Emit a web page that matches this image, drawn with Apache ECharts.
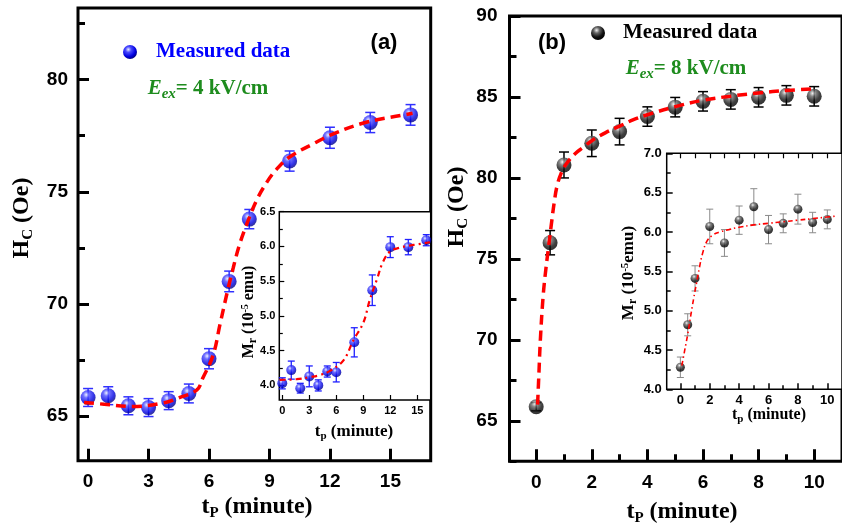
<!DOCTYPE html>
<html><head><meta charset="utf-8">
<script src="https://cdn.jsdelivr.net/npm/echarts@6/dist/echarts.min.js"></script>
<style>html,body{margin:0;padding:0;background:#fff}#c{width:842px;height:528px}</style>
</head><body><div id="c"></div>
<script>
// ---------- Panel (a): main ----------
const tA      = [0, 1, 2, 3, 4, 5, 6, 7, 8, 10, 12, 14, 16];
const hcA     = [65.82, 65.9, 65.45, 65.37, 65.68, 66.0, 67.55, 71.0, 73.78, 76.37, 77.41, 78.09, 78.43];
const hcAErr  = [0.4, 0.4, 0.4, 0.4, 0.4, 0.42, 0.45, 0.46, 0.43, 0.45, 0.47, 0.45, 0.46];
const fitTA   = [-0.2, 0.8, 2.2, 3.7, 4.5, 5.4, 5.7, 6.2, 6.55, 6.9, 7.2, 7.5, 7.85, 8.35, 8.85, 9.35, 10, 11.3, 12.2, 13.8, 15.5, 16.1];
const fitHcA  = [65.6, 65.52, 65.42, 65.57, 65.8, 66.16, 66.7, 67.7, 69.1, 70.5, 71.6, 72.6, 73.5, 74.6, 75.4, 76.0, 76.55, 77.2, 77.6, 78.1, 78.4, 78.5];
// ---------- Panel (a): inset ----------
const tInA    = [0, 1, 2, 3, 4, 5, 6, 8, 10, 12, 14, 16];
const mrA     = [4.03, 4.22, 3.96, 4.13, 4.0, 4.2, 4.19, 4.62, 5.37, 5.99, 5.99, 6.09];
const mrAErr  = [0.08, 0.13, 0.07, 0.15, 0.08, 0.08, 0.14, 0.21, 0.22, 0.15, 0.11, 0.08];
const fitTInA = [-0.3, 1.6, 3.1, 4.2, 5.3, 6.8, 7.9, 9.0, 9.7, 10.5, 11.2, 12, 13, 14, 15, 16.4];
const fitMrA  = [4.08, 4.09, 4.12, 4.15, 4.21, 4.36, 4.65, 4.9, 5.22, 5.52, 5.78, 5.93, 5.98, 6.01, 6.03, 6.06];
// ---------- Panel (b): main ----------
const tB      = [0, 0.5, 1, 2, 3, 4, 5, 6, 7, 8, 9, 10];
const hcB     = [65.87, 76.0, 80.8, 82.14, 82.86, 83.79, 84.37, 84.73, 84.85, 84.98, 85.1, 85.04];
const hcBErr  = [0.25, 0.75, 0.8, 0.82, 0.82, 0.6, 0.6, 0.6, 0.6, 0.6, 0.6, 0.6];
const fitTB   = [0.05, 0.1, 0.15, 0.25, 0.35, 0.45, 0.55, 0.65, 0.75, 0.9, 1.1, 1.4, 1.7, 2, 2.5, 3, 3.5, 4, 5, 6, 7, 8, 9, 10];
const fitHcB  = [66.0, 68.0, 70.0, 72.7, 74.4, 75.8, 77.2, 78.5, 79.5, 80.3, 80.9, 81.5, 81.9, 82.3, 82.8, 83.2, 83.6, 83.9, 84.4, 84.8, 85.05, 85.25, 85.4, 85.5];
// ---------- Panel (b): inset ----------
const tInB    = [0, 0.5, 1, 2, 3, 4, 5, 6, 7, 8, 9, 10];
const mrB     = [4.28, 4.82, 5.41, 6.07, 5.86, 6.15, 6.32, 6.03, 6.11, 6.29, 6.12, 6.16];
const mrBErr  = [0.13, 0.14, 0.16, 0.22, 0.17, 0.18, 0.23, 0.18, 0.12, 0.19, 0.13, 0.12];
const fitTInB = [0.1, 0.3, 0.5, 0.7, 0.9, 1.1, 1.3, 1.5, 1.8, 2.2, 2.7, 3.3, 4, 5, 6, 7, 8, 9, 10, 10.5];
const fitMrB  = [4.3, 4.5, 4.7, 4.93, 5.15, 5.35, 5.55, 5.72, 5.88, 5.96, 6.0, 6.03, 6.06, 6.09, 6.11, 6.13, 6.15, 6.17, 6.19, 6.2];
// ---------- Ticks ----------
const ticksAx = [0, 3, 6, 9, 12, 15];
const ticksAy = [65, 70, 75, 80];
const minorAy = [67.5, 72.5, 77.5, 82.5];
const ticksInAx = [0, 3, 6, 9, 12, 15];
const ticksInAy = [4.0, 4.5, 5.0, 5.5, 6.0, 6.5];
const minorInAy = [4.25, 4.75, 5.25, 5.75, 6.25];
const ticksBx = [0, 2, 4, 6, 8, 10];
const minorBx = [1, 3, 5, 7, 9];
const ticksBy = [65, 70, 75, 80, 85, 90];
const minorBy = [62.5, 67.5, 72.5, 77.5, 82.5, 87.5];
const ticksInBx = [0, 2, 4, 6, 8, 10];
const minorInBx = [1, 3, 5, 7, 9];
const ticksInBy = [4.0, 4.5, 5.0, 5.5, 6.0, 6.5, 7.0];
const minorInBy = [4.25, 4.75, 5.25, 5.75, 6.25, 6.75];

const SERIF = 'Liberation Serif', SANS = 'Liberation Sans';
const BLUE = '#0000ff', GREEN = '#1e8c1e', RED = '#ff0000';

function axis(gi, min, max, pos, ticks, len, w, lab) {
  const a = {
    gridIndex: gi, type: 'value', min: min, max: max, position: pos, offset: 0,
    axisLine: { show: false, onZero: false }, splitLine: { show: false },
    axisTick: { show: true, inside: true, length: len, lineStyle: { color: '#000', width: w }, customValues: ticks },
    axisLabel: { show: false }
  };
  if (lab) {
    a.axisLabel = { show: true, customValues: ticks, color: '#000', fontFamily: SANS, fontWeight: 'bold',
      fontSize: lab.size, margin: lab.margin, formatter: lab.fmt || (v => String(v)) };
  }
  return a;
}
const f1 = v => v.toFixed(1);

const blueSphere = { type: 'radial', x: 0.38, y: 0.32, r: 0.68, colorStops: [
  { offset: 0, color: '#e6ecff' }, { offset: 0.3, color: '#4a4aff' }, { offset: 0.75, color: '#0000e0' }, { offset: 1, color: '#00008a' }] };
const blackSphere = { type: 'radial', x: 0.4, y: 0.3, r: 0.7, colorStops: [
  { offset: 0, color: '#f0f0f0' }, { offset: 0.3, color: '#666' }, { offset: 0.7, color: '#111' }, { offset: 1, color: '#000' }] };

function errSeries(xs, ys, es, xi, yi, color, cap, lw) {
  return {
    type: 'custom', xAxisIndex: xi, yAxisIndex: yi, z: 3, silent: true,
    encode: { x: 0, y: [1, 2] },
    data: xs.map((x, i) => [x, ys[i] - es[i], ys[i] + es[i]]),
    renderItem: function (params, api) {
      const lo = api.coord([api.value(0), api.value(1)]);
      const hi = api.coord([api.value(0), api.value(2)]);
      const st = { stroke: color, lineWidth: lw };
      return { type: 'group', children: [
        { type: 'line', shape: { x1: lo[0], y1: lo[1], x2: hi[0], y2: hi[1] }, style: st },
        { type: 'line', shape: { x1: hi[0] - cap, y1: hi[1], x2: hi[0] + cap, y2: hi[1] }, style: st },
        { type: 'line', shape: { x1: lo[0] - cap, y1: lo[1], x2: lo[0] + cap, y2: lo[1] }, style: st }
      ]};
    }
  };
}
function scatter(xs, ys, xi, yi, size, color) {
  return { type: 'scatter', xAxisIndex: xi, yAxisIndex: yi, z: 4, symbolSize: size, silent: true,
    itemStyle: { color: color }, data: xs.map((x, i) => [x, ys[i]]) };
}
function fit(xs, ys, xi, yi, width, dash) {
  return { type: 'line', xAxisIndex: xi, yAxisIndex: yi, z: 5, showSymbol: false, silent: true,
    smooth: 0.4,
    lineStyle: { color: RED, width: width, type: dash }, data: xs.map((x, i) => [x, ys[i]]) };
}

function txt(x, y, text, rich, rot) {
  return { type: 'text', x: x, y: y, rotation: rot || 0, z: 100,
    style: { text: text, rich: rich, align: 'center', verticalAlign: 'middle' } };
}
function tf(size, opts) {
  return Object.assign({ fontSize: size, fontWeight: 'bold', fontFamily: SERIF, fill: '#000' }, opts || {});
}

const hcRich = { m: tf(24), s: tf(15, { padding: [13, 0, 0, 0] }) };
const tpRich = { m: tf(24), s: tf(15, { padding: [13, 0, 0, 0] }) };
const mrRichA = { m: tf(16), s: tf(12, { padding: [7, 0, 0, 0] }), p: tf(10, { padding: [0, 0, 8, 0] }) };
const mrRichB = { m: tf(17), s: tf(12, { padding: [7, 0, 0, 0] }), p: tf(11, { padding: [0, 0, 8, 0] }) };
const tpRichA = { m: tf(17), s: tf(11, { padding: [9, 0, 0, 0] }) };
const tpRichB = { m: tf(16), s: tf(11, { padding: [9, 0, 0, 0] }) };
const eRich = {
  e: tf(21, { fontStyle: 'italic', fill: GREEN }),
  s: tf(15, { fontStyle: 'italic', fill: GREEN, padding: [11, 0, 0, 0] }),
  m: tf(21, { fill: GREEN })
};

const option = {
  backgroundColor: '#fff',
  animation: false,
  grid: [
    { left: 78, top: 8, width: 352.7, height: 452.7, show: true, borderColor: '#000', borderWidth: 3, backgroundColor: 'transparent' },
    { left: 279.3, top: 211.7, width: 151.4, height: 188.3, show: true, borderColor: '#000', borderWidth: 1.5, backgroundColor: '#fff' },
    { left: 509.5, top: 16, width: 341.7, height: 445.3, show: true, borderColor: '#000', borderWidth: 3, backgroundColor: 'transparent' },
    { left: 666.7, top: 153.3, width: 183.7, height: 236, show: true, borderColor: '#000', borderWidth: 1.5, backgroundColor: '#fff' }
  ],
  xAxis: [
    axis(0, -0.5, 17, 'bottom', ticksAx, 12, 3, { size: 19, margin: 12 }),
    axis(1, -0.33, 16.49, 'bottom', ticksInAx, 5, 1.2, { size: 11, margin: 5 }),
    axis(2, -0.96, 11, 'bottom', ticksBx, 12, 3, { size: 19, margin: 12 }),
    axis(2, -0.96, 11, 'bottom', minorBx, 7, 3),
    axis(3, -0.93, 11, 'bottom', ticksInBx, 6, 1.5, { size: 13, margin: 5 }),
    axis(3, -0.93, 11, 'bottom', minorInBx, 4, 1.5),
    axis(3, -0.93, 11, 'top', minorInBx.concat(ticksInBx), 5, 1.2)
  ],
  yAxis: [
    axis(0, 63, 83.2, 'left', ticksAy, 11, 3, { size: 19, margin: 10 }),
    axis(0, 63, 83.2, 'left', minorAy, 7, 3),
    axis(1, 3.79, 6.5, 'left', ticksInAy, 5, 1.2, { size: 11, margin: 4, fmt: f1 }),
    axis(1, 3.79, 6.5, 'left', minorInAy, 3.5, 1.2),
    axis(2, 62.5, 90, 'left', ticksBy, 11, 3, { size: 19, margin: 12 }),
    axis(2, 62.5, 90, 'left', minorBy, 7, 3),
    axis(3, 4.0, 7.0, 'left', ticksInBy, 6, 1.5, { size: 13, margin: 5, fmt: f1 }),
    axis(3, 4.0, 7.0, 'left', minorInBy, 4, 1.5)
  ],
  series: [
    errSeries(tA, hcA, hcAErr, 0, 0, '#3030ff', 5, 1.5),
    scatter(tA, hcA, 0, 0, 15, blueSphere),
    fit(fitTA, fitHcA, 0, 0, 3.5, [10, 6]),

    errSeries(tInA, mrA, mrAErr, 1, 2, '#2020ff', 3.5, 1.3),
    scatter(tInA, mrA, 1, 2, 10, blueSphere),
    fit(fitTInA, fitMrA, 1, 2, 2.2, [6, 4, 2, 4]),

    errSeries(tB, hcB, hcBErr, 2, 4, '#000', 5, 1.5),
    scatter(tB, hcB, 2, 4, 15, blackSphere),
    fit(fitTB, fitHcB, 2, 4, 3.5, [10, 6]),

    errSeries(tInB, mrB, mrBErr, 4, 6, '#8a8a8a', 3.5, 1),
    scatter(tInB, mrB, 4, 6, 9, blackSphere),
    fit(fitTInB, fitMrB, 4, 6, 1.6, [5, 3, 1.5, 3])
  ],
  graphic: [
    { type: 'circle', shape: { cx: 130, cy: 52, r: 7 }, style: { fill: new echarts.graphic.RadialGradient(0.38, 0.32, 0.68, blueSphere.colorStops) }, z: 100 },
    { type: 'text', x: 156, y: 52, z: 100, style: { text: 'Measured data', fontSize: 21, fontWeight: 'bold', fontFamily: SERIF, fill: BLUE, align: 'left', verticalAlign: 'middle' } },
    { type: 'circle', shape: { cx: 598, cy: 33, r: 7 }, style: { fill: new echarts.graphic.RadialGradient(0.4, 0.3, 0.7, blackSphere.colorStops) }, z: 100 },
    { type: 'text', x: 623, y: 33, z: 100, style: { text: 'Measured data', fontSize: 21, fontWeight: 'bold', fontFamily: SERIF, fill: '#000', align: 'left', verticalAlign: 'middle' } },
    { type: 'text', x: 384, y: 43, z: 100, style: { text: '(a)', fontSize: 22, fontWeight: 'bold', fontFamily: SANS, fill: '#000', align: 'center', verticalAlign: 'middle' } },
    { type: 'text', x: 552, y: 43, z: 100, style: { text: '(b)', fontSize: 22, fontWeight: 'bold', fontFamily: SANS, fill: '#000', align: 'center', verticalAlign: 'middle' } },
    txt(208, 89, '{e|E}{s|ex}{m|= 4 kV/cm}', eRich),
    txt(686, 69, '{e|E}{s|ex}{m|= 8 kV/cm}', eRich),
    txt(22, 218, '{m|H}{s|C}{m| (Oe)}', hcRich, Math.PI / 2),
    txt(457, 207, '{m|H}{s|C}{m| (Oe)}', hcRich, Math.PI / 2),
    txt(257, 507, '{m|t}{s|P}{m| (minute)}', tpRich),
    txt(682, 512, '{m|t}{s|P}{m| (minute)}', tpRich),
    txt(249, 312, '{m|M}{s|r}{m| (10}{p|-5}{m| emu)}', mrRichA, Math.PI / 2),
    txt(629, 273, '{m|M}{s|r}{m| (10}{p|-5}{m|emu)}', mrRichB, Math.PI / 2),
    txt(354, 432, '{m|t}{s|p}{m| (minute)}', tpRichA),
    txt(769, 415, '{m|t}{s|p}{m| (minute)}', tpRichB)
  ]
};

const chart = echarts.init(document.getElementById('c'), null, { renderer: 'canvas', width: 842, height: 528 });
chart.setOption(option);
</script></body></html>
